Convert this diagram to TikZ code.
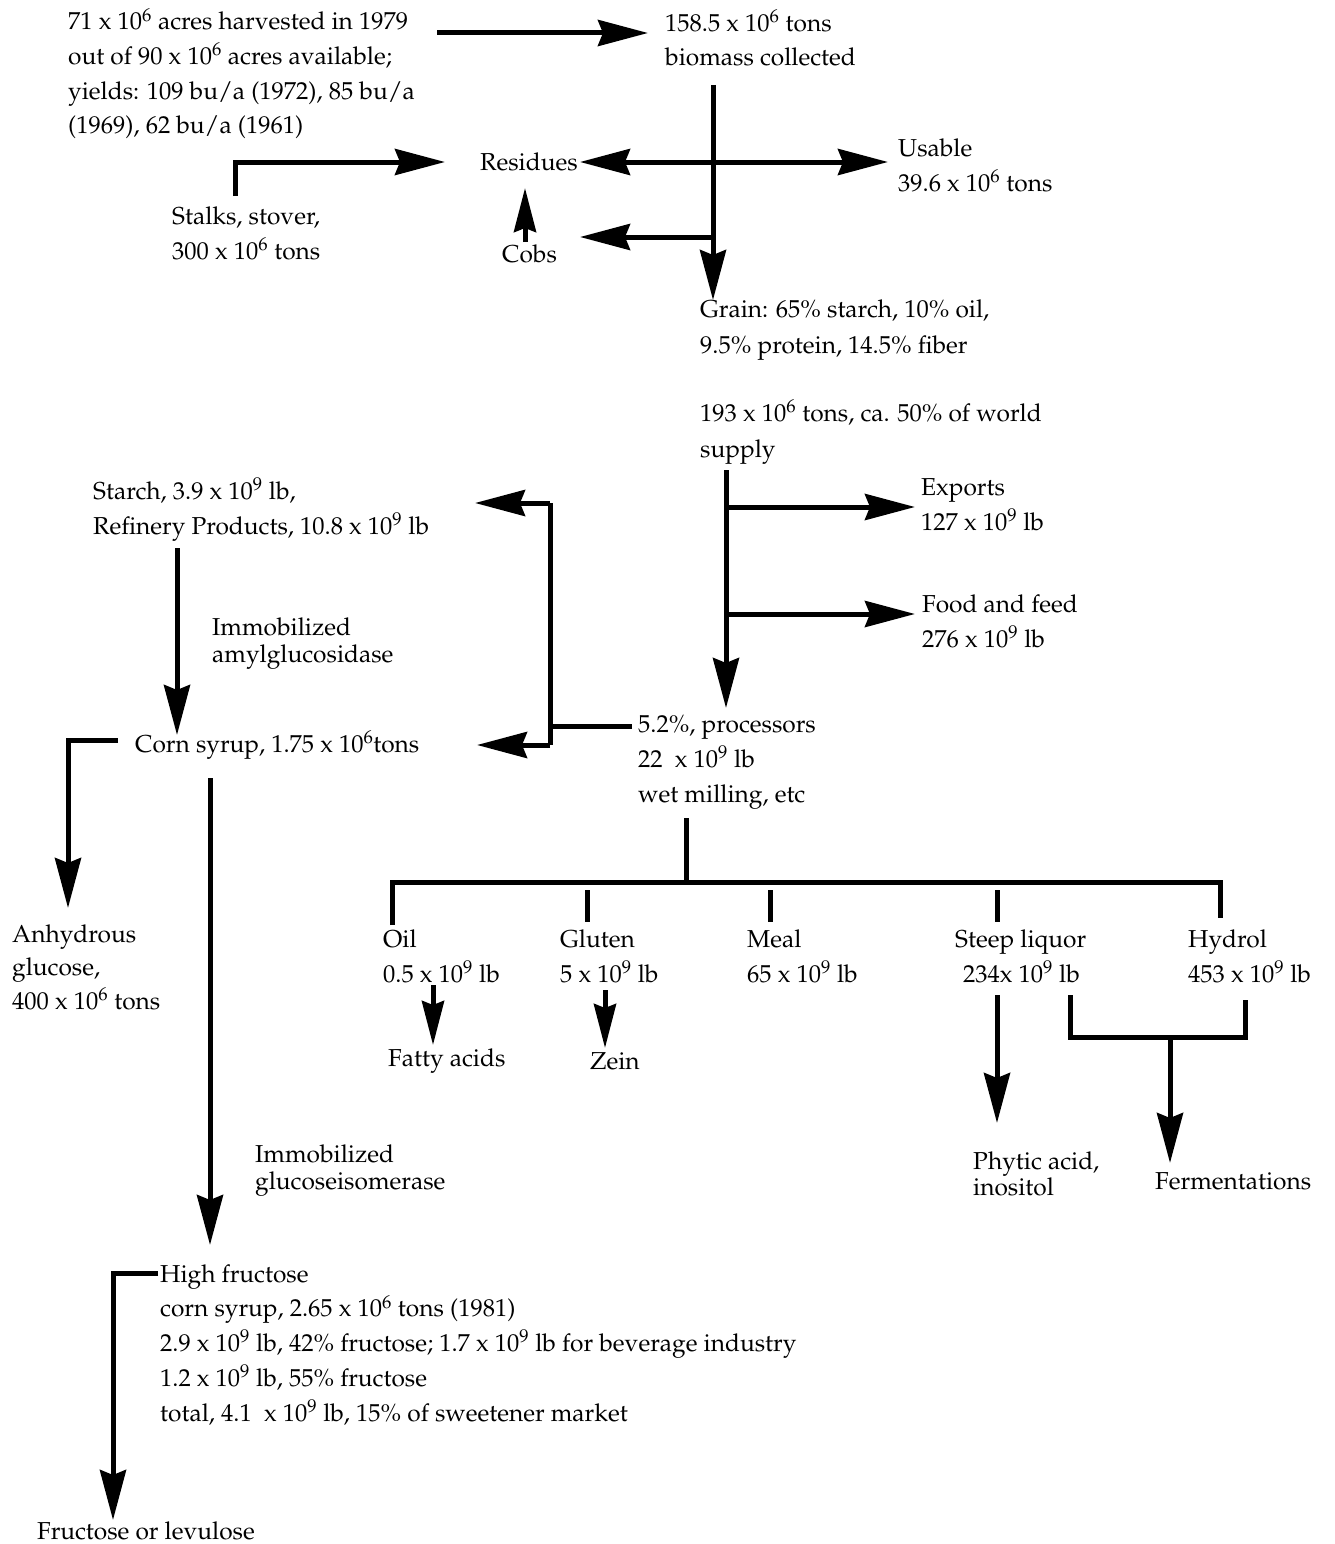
\documentclass[tikz,border=0pt]{standalone}
\usepackage[T1]{fontenc}
\usepackage{mathpazo}
\usetikzlibrary{arrows.meta}
\newcommand{\sups}[1]{\textsuperscript{#1}}
\begin{document}
\begin{tikzpicture}[x=1pt,y=-1pt,
  ln/.style={line width=5pt},
  arr/.style={line width=5pt,-{Stealth[length=50pt,width=26pt,inset=5pt]}},
  sarr/.style={line width=5pt,-{Stealth[length=44pt,width=22pt,inset=4pt]}},
  txt/.style={anchor=base west,inner sep=0pt,align=left,font=\fontsize{24.5}{34.7}\selectfont},
  tight/.style={font=\fontsize{24.5}{27}\selectfont}]
\useasboundingbox[fill=white] (0,0) rectangle (1334,1544);
% texts (base anchor = baseline of last line)
\node[txt] (acres) at (68,134) {71 x 10\sups{6} acres harvested in 1979\\out of 90 x 10\sups{6} acres available;\\yields: 109 bu/a (1972), 85 bu/a\\(1969), 62 bu/a (1961)};
\node[txt] (biomass) at (665,66) {158.5 x 10\sups{6} tons\\biomass collected};
\node[txt] (residues) at (480,170) {Residues};
\node[txt] (cobs) at (502,262) {Cobs};
\node[txt] (stalks) at (172,259) {Stalks, stover,\\300 x 10\sups{6} tons};
\node[txt] (usable) at (898,191) {Usable\\39.6 x 10\sups{6} tons};
\node[txt,font=\fontsize{24.5}{36}\selectfont] (grain) at (700,353) {Grain: 65\% starch, 10\% oil,\\9.5\% protein, 14.5\% fiber};
\node[txt,font=\fontsize{24.5}{36}\selectfont] (world) at (700,457) {193 x 10\sups{6} tons, ca. 50\% of world\\supply};
\node[txt] (starch) at (93,534) {Starch, 3.9 x 10\sups{9} lb,\\Refinery Products, 10.8 x 10\sups{9} lb};
\node[txt] (exports) at (921,530) {Exports\\127 x 10\sups{9} lb};
\node[txt] (food) at (922,647) {Food and feed\\276 x 10\sups{9} lb};
\node[txt,tight] (amyl) at (212,662) {Immobilized\\amylglucosidase};
\node[txt] (proc) at (638,802) {5.2\%, processors\\22~ x 10\sups{9} lb\\wet milling, etc};
\node[txt] (syrup) at (135,752) {Corn syrup, 1.75 x 10\sups{6}tons};
\node[txt,font=\fontsize{24.5}{33.5}\selectfont] (anhyd) at (12,1009) {Anhydrous\\glucose,\\400 x 10\sups{6} tons};
\node[txt] (oil) at (383,982) {Oil\\0.5 x 10\sups{9} lb};
\node[txt] (gluten) at (560,982) {Gluten\\5 x 10\sups{9} lb};
\node[txt] (meal) at (747,982) {Meal\\65 x 10\sups{9} lb};
\node[txt] (steep) at (955,982) {Steep liquor\\\hspace*{8pt}234x 10\sups{9} lb};
\node[txt] (hydrol) at (1188,982) {Hydrol\\453 x 10\sups{9} lb};
\node[txt] (fatty) at (388,1066) {Fatty acids};
\node[txt] (zein) at (590,1069) {Zein};
\node[txt,tight] (isom) at (255,1189) {Immobilized\\glucoseisomerase};
\node[txt,font=\fontsize{24.5}{26}\selectfont] (phytic) at (973,1195) {Phytic acid,\\inositol};
\node[txt] (ferm) at (1155,1189) {Fermentations};
\node[txt] (hfcs) at (160,1421) {High fructose\\corn syrup, 2.65 x 10\sups{6} tons (1981)\\2.9 x 10\sups{9} lb, 42\% fructose; 1.7 x 10\sups{9} lb for beverage industry\\1.2 x 10\sups{9} lb, 55\% fructose\\total, 4.1~ x 10\sups{9} lb, 15\% of sweetener market};
\node[txt] (levu) at (37,1539) {Fructose or levulose};
% coordinates
\coordinate (a1) at (437,33); \coordinate (a2) at (648,33);
\coordinate (v1) at (713,85); \coordinate (v2) at (713,300);
\coordinate (rL) at (580,162); \coordinate (rR) at (888,162); \coordinate (rM) at (713,162);
\coordinate (cJ) at (713,237); \coordinate (cT) at (580,237);
\coordinate (cu1) at (525,242); \coordinate (cu2) at (525,188);
\coordinate (s1) at (235,196); \coordinate (s2) at (235,162); \coordinate (s3) at (445,162);
\coordinate (g1) at (726,470); \coordinate (g2) at (726,708);
\coordinate (e1) at (726,507); \coordinate (e2) at (915,507);
\coordinate (f1) at (726,614); \coordinate (f2) at (915,614);
\coordinate (p1) at (632,726); \coordinate (p2) at (550,726);
\coordinate (b1) at (550,503); \coordinate (b2) at (550,745);
\coordinate (b1t) at (475,503); \coordinate (b2t) at (477,745);
\coordinate (st1) at (177,548); \coordinate (st2) at (177,735);
\coordinate (cs1) at (118,740); \coordinate (cs2) at (68,740); \coordinate (cs3) at (68,908);
\coordinate (d1) at (210,778); \coordinate (d2) at (210,1245);
\coordinate (h1) at (158,1273); \coordinate (h2) at (113,1273); \coordinate (h3) at (113,1520);
\coordinate (m1) at (686,818); \coordinate (m2) at (686,882);
\coordinate (bar1) at (392,882); \coordinate (bar2) at (1220,882);
% connectors
\draw[arr] (a1) -- (a2);
\draw[arr] (v1) -- (v2);
\draw[arr] (rM) -- (rL);
\draw[arr] (rM) -- (rR);
\draw[arr] (cJ) -- (cT);
\draw[sarr] (cu1) -- (cu2);
\draw[arr] (s1) -- (s2) -- (s3);
\draw[arr] (g1) -- (g2);
\draw[arr] (e1) -- (e2);
\draw[arr] (f1) -- (f2);
\draw[ln] (p1) -- (p2);
\draw[ln] (b1) -- (b2);
\draw[arr] (b1) -- (b1t);
\draw[arr] (b2) -- (b2t);
\draw[arr] (st1) -- (st2);
\draw[arr] (cs1) -- (cs2) -- (cs3);
\draw[arr] (d1) -- (d2);
\draw[arr] (h1) -- (h2) -- (h3);
\draw[ln] (m1) -- (m2);
\draw[ln] (392,925) -- (bar1) -- (bar2) -- (1220,918);
\draw[ln] (587,890) -- (587,922);
\draw[ln] (770,890) -- (770,922);
\draw[ln] (997,890) -- (997,922);
\draw[sarr] (433,985) -- (433,1045);
\draw[sarr] (605,990) -- (605,1048);
\draw[arr] (997,995) -- (997,1123);
\draw[ln] (1070,995) -- (1070,1037) -- (1245,1037) -- (1245,1000);
\draw[arr] (1170,1037) -- (1170,1163);
\end{tikzpicture}
\end{document}
